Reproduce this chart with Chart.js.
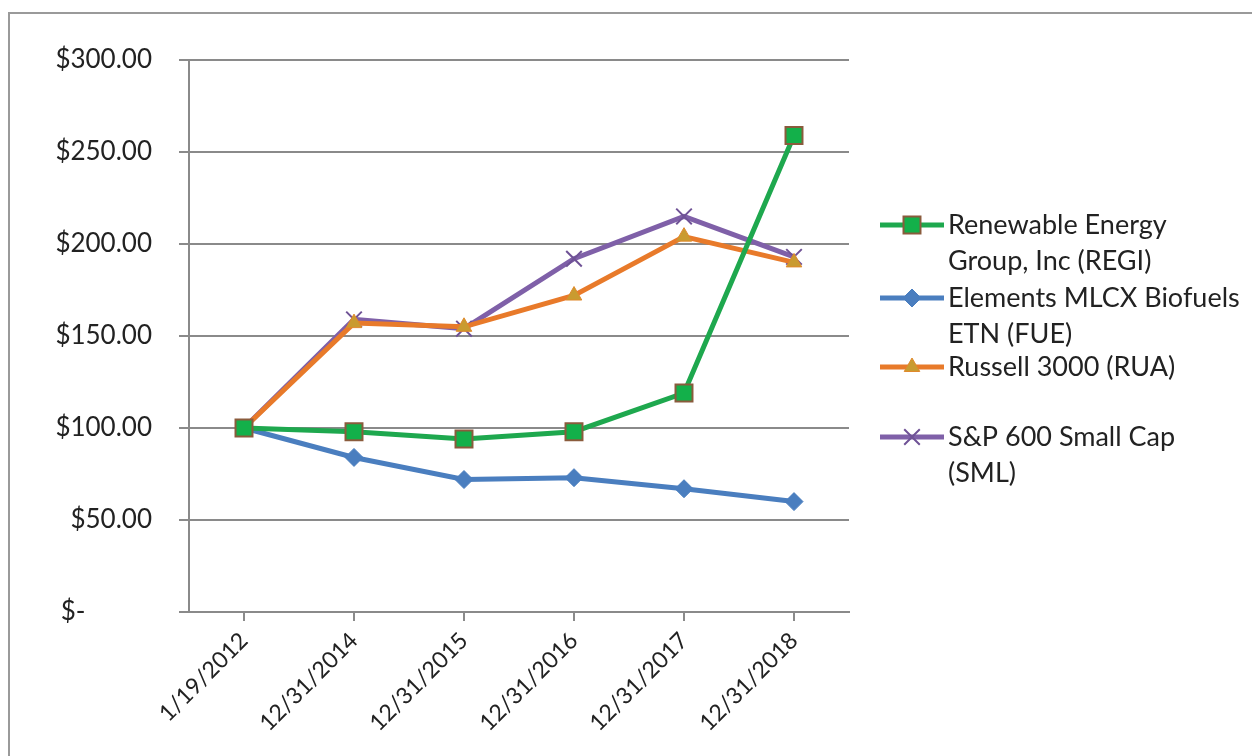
<!DOCTYPE html>
<html>
<head>
<meta charset="utf-8">
<script src="https://cdn.jsdelivr.net/npm/chart.js@4"></script>
<style>
  html, body { margin: 0; padding: 0; background: #fff; overflow: hidden; }
  #wrap { position: relative; width: 1252px; height: 756px; }
  #frame { position: absolute; left: 8px; top: 12px; width: 1300px; height: 800px; border: 2px solid #9a9a9a; }
  canvas { position: absolute; left: 0; top: 0; }
</style>
</head>
<body>
<div id="wrap">
  <div id="frame"></div>
  <canvas id="chart" width="1252" height="756"></canvas>
</div>
<script>
const dates = ["1/19/2012", "12/31/2014", "12/31/2015", "12/31/2016", "12/31/2017", "12/31/2018"];

const regi = [100, 98, 94, 98, 119, 259];
const fue = [100, 84, 72, 73, 67, 60];
const rua = [100, 157, 155, 172, 204, 190];
const sml = [100, 159, 154, 192, 215, 193];

const seriesNames = [
  ["Renewable Energy", "Group, Inc (REGI)"],
  ["Elements MLCX Biofuels", "ETN (FUE)"],
  ["Russell 3000 (RUA)"],
  ["S&P 600 Small Cap", "(SML)"]
];

const yTicks = [0, 50, 100, 150, 200, 250, 300];

const FONT = "Lato, 'DejaVu Sans', sans-serif";

// legend drawn by hand so the long names can wrap like the original
const wrapLegend = {
  id: "wrapLegend",
  afterDraw(chart) {
    const ctx = chart.ctx;
    const rows = [225, 298, 367, 437];
    ctx.save();
    ctx.font = "27px " + FONT;
    ctx.textBaseline = "middle";
    chart.data.datasets.forEach((ds, i) => {
      const y = rows[i];
      ctx.strokeStyle = ds.borderColor;
      ctx.lineWidth = ds.borderWidth;
      ctx.beginPath();
      ctx.moveTo(880, y);
      ctx.lineTo(944, y);
      ctx.stroke();
      ctx.fillStyle = ds.pointBackgroundColor;
      ctx.strokeStyle = ds.pointBorderColor;
      ctx.lineWidth = ds.pointBorderWidth;
      Chart.helpers.drawPoint(ctx, {
        pointStyle: ds.pointStyle,
        radius: ds.pointRadius,
        rotation: 0,
        borderWidth: ds.pointBorderWidth
      }, 912, y);
      ctx.fillStyle = "#222";
      seriesNames[i].forEach((line, j) => {
        ctx.fillText(line, 948, y + j * 36);
      });
    });
    ctx.restore();
  }
};

const ctx = document.getElementById("chart").getContext("2d");
new Chart(ctx, {
  type: "line",
  data: {
    labels: dates,
    datasets: [
      {
        label: seriesNames[0].join(" "),
        data: regi,
        borderColor: "#1ea84e",
        borderWidth: 5,
        pointStyle: "rect",
        pointRadius: 12,
        pointBackgroundColor: "#13b04a",
        pointBorderColor: "#8a5b3c",
        pointBorderWidth: 2
      },
      {
        label: seriesNames[1].join(" "),
        data: fue,
        borderColor: "#4a7ebf",
        borderWidth: 5,
        pointStyle: "rectRot",
        pointRadius: 9,
        pointBackgroundColor: "#4a7ebf",
        pointBorderColor: "#4a7ebf",
        pointBorderWidth: 1
      },
      {
        label: seriesNames[2].join(" "),
        data: rua,
        borderColor: "#e87a2a",
        borderWidth: 5,
        pointStyle: "triangle",
        pointRadius: 9,
        pointBackgroundColor: "#c99b30",
        pointBorderColor: "#e0892c",
        pointBorderWidth: 1
      },
      {
        label: seriesNames[3].join(" "),
        data: sml,
        borderColor: "#7f60a8",
        borderWidth: 5,
        pointStyle: "crossRot",
        pointRadius: 11,
        pointBackgroundColor: "#7f60a8",
        pointBorderColor: "#6f5296",
        pointBorderWidth: 2
      }
    ]
  },
  options: {
    responsive: false,
    animation: false,
    layout: { padding: { top: 60, right: 403, left: 0, bottom: 0 } },
    plugins: {
      legend: { display: false },
      tooltip: { enabled: false }
    },
    scales: {
      x: {
        offset: true,
        afterFit(scale) { scale.height = 144; },
        grid: {
          drawOnChartArea: false,
          drawTicks: true,
          tickLength: 9,
          color: "#8a8a8a",
          lineWidth: 2
        },
        border: { display: true, color: "#8a8a8a", width: 2 },
        ticks: {
          minRotation: 45,
          maxRotation: 45,
          padding: 6,
          color: "#222",
          font: { family: FONT, size: 23 }
        }
      },
      y: {
        min: 0,
        max: 300,
        afterFit(scale) { scale.width = 189; },
        afterBuildTicks(scale) { scale.ticks = yTicks.map(v => ({ value: v })); },
        grid: {
          color: "#8a8a8a",
          lineWidth: 2,
          tickLength: 10
        },
        border: { display: true, color: "#8a8a8a", width: 2 },
        ticks: {
          padding: 27,
          color: "#222",
          font: { family: FONT, size: 26 },
          callback: v => v === 0 ? "$-" + "\u00a0".repeat(10) : "$" + v.toFixed(2)
        }
      }
    }
  },
  plugins: [wrapLegend]
});
</script>
</body>
</html>
